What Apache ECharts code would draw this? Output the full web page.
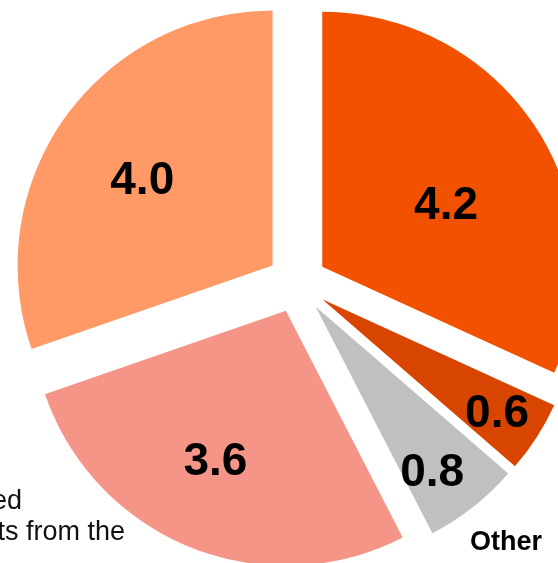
<!DOCTYPE html>
<html>
<head>
<meta charset="utf-8">
<script src="https://cdn.jsdelivr.net/npm/echarts@6/dist/echarts.min.js"></script>
<style>
html,body{margin:0;padding:0;background:#fff;}
#chart{width:558px;height:563px;}
</style>
</head>
<body>
<div id="chart"></div>
<script>
// Data
var categories = ['A', 'B', 'Other', 'C', 'D'];
var values = [4.2, 0.6, 0.8, 3.6, 4.0];
var colors = ['#F25200', '#D84500', '#C0C0C0', '#F59588', '#FF9A66'];
var footnoteLines = ['ed', 'ts from the'];
var otherLabel = 'Other';

// label nudges (styling)
var labelDx = [14, 65, 36, -22, -24];
var labelDy = [10, 45, 64, 30, -9];

var chart = echarts.init(document.getElementById('chart'), null, {renderer: 'canvas'});
var data = values.map(function (v, i) {
  return {name: categories[i], value: v, selected: true, itemStyle: {color: colors[i]}};
});
var font = '"Liberation Sans", Arial, Helvetica, sans-serif';
chart.setOption({
  animation: false,
  series: [{
    type: 'pie',
    center: [297, 283],
    radius: [0, 255],
    startAngle: 90,
    clockwise: true,
    selectedMode: 'multiple',
    selectedOffset: 30,
    avoidLabelOverlap: false,
    label: {
      show: true,
      position: 'inside',
      formatter: function (p) { return p.value.toFixed(1); },
      fontSize: 46,
      fontWeight: 'bold',
      fontFamily: font,
      color: '#000'
    },
    labelLine: {show: false},
    emphasis: {disabled: true},
    select: {itemStyle: {borderWidth: 0}},
    itemStyle: {borderWidth: 0},
    labelLayout: function (p) {
      return {dx: labelDx[p.dataIndex], dy: labelDy[p.dataIndex]};
    },
    data: data
  }],
  graphic: [
    {type: 'text', right: 16, top: 529, style: {text: otherLabel, font: 'bold 27px ' + font, fill: '#000'}},
    {type: 'text', x: 22, y: 515, style: {text: footnoteLines[0], font: '27px ' + font, fill: '#111', textAlign: 'right', textVerticalAlign: 'bottom'}},
    {type: 'text', x: 125, y: 546, style: {text: footnoteLines[1], font: '27px ' + font, fill: '#111', textAlign: 'right', textVerticalAlign: 'bottom'}}
  ]
});
</script>
</body>
</html>
